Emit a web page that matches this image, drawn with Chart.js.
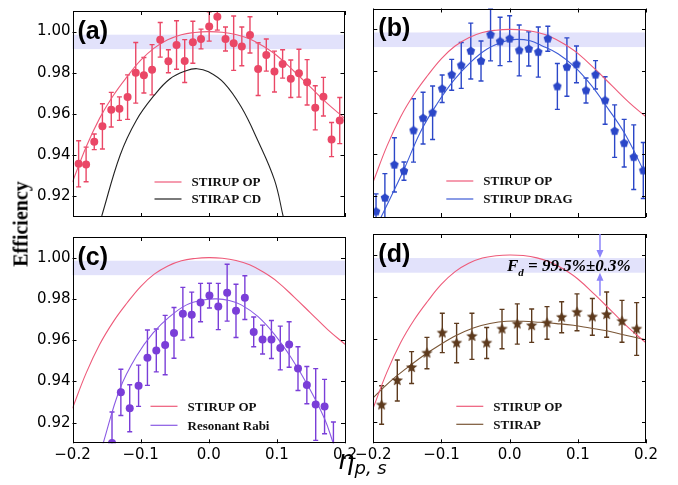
<!DOCTYPE html>
<html>
<head>
<meta charset="utf-8">
<script src="https://cdn.jsdelivr.net/npm/chart.js@4.4.1/dist/chart.umd.min.js"></script>
<style>
body { margin: 0; background: #fff; }
#wrap { position: relative; width: 678px; height: 485px; overflow: hidden; background: #fff; }
canvas { position: absolute; }
.ylab { position: absolute; left: 21px; top: 224px; transform: translate(-50%, -50%) rotate(-90deg); font: bold 20px "Liberation Serif"; white-space: nowrap; }
.xlab { position: absolute; left: 338px; top: 445px; font: italic 26px "DejaVu Sans"; white-space: nowrap; line-height: 30px; }
.xlab span { font-size: 18px; position: relative; top: 5px; }
.fd { position: absolute; left: 507px; top: 256px; font: bold italic 17px "Liberation Serif"; white-space: nowrap; line-height: 20px; }
.fd span { font-size: 11px; position: relative; top: 5px; }
</style>
</head>
<body>
<div id="wrap">
  <canvas id="pa"></canvas>
  <canvas id="pb"></canvas>
  <canvas id="pc"></canvas>
  <canvas id="pd"></canvas>
  <div class="ylab">Efficiency</div>
  <div class="xlab">η<span>p, s</span></div>
  <div class="fd">F<span>d</span> = 99.5%±0.3%</div>
</div>
<script>
var etaTicks = [-0.2, -0.1, 0.0, 0.1, 0.2];
var effTicks = [0.92, 0.94, 0.96, 0.98, 1.00];
var bandRange = [0.9915, 0.9985];

// STIRUP OP theory curve (same in every panel)
var opEta = [-0.2, -0.18, -0.16, -0.14, -0.12, -0.10, -0.08, -0.06, -0.04, -0.02, 0.0, 0.02, 0.04, 0.06, 0.08, 0.10, 0.125, 0.15, 0.175, 0.2];
var opEff = [0.927, 0.944, 0.958, 0.969, 0.978, 0.986, 0.992, 0.996, 0.9985, 0.9996, 1.0, 0.9997, 0.9986, 0.9965, 0.993, 0.9885, 0.981, 0.973, 0.965, 0.958];

// (a) measured + STIRAP CD
var aEta = [-0.191, -0.180, -0.168, -0.156, -0.143, -0.131, -0.119, -0.107, -0.095, -0.083, -0.071, -0.059, -0.047, -0.035, -0.023, -0.011, 0.001, 0.013, 0.025, 0.037, 0.049, 0.061, 0.073, 0.085, 0.097, 0.109, 0.121, 0.133, 0.145, 0.157, 0.169, 0.181, 0.193];
var aEff = [0.9358, 0.9355, 0.9465, 0.9540, 0.9621, 0.9626, 0.9682, 0.9800, 0.9788, 0.9815, 0.9960, 0.9856, 0.9935, 0.9857, 0.9948, 0.9964, 1.0025, 1.0072, 0.9964, 0.9944, 0.9928, 0.9984, 0.9818, 0.9886, 0.9806, 0.9843, 0.9771, 0.9798, 0.9754, 0.9630, 0.9684, 0.9476, 0.9568];
var aErr = [0.0112, 0.0084, 0.0038, 0.0110, 0.0084, 0.0057, 0.0108, 0.0147, 0.0086, 0.0122, 0.0084, 0.0056, 0.0118, 0.0104, 0.0102, 0.0048, 0.0071, 0.0065, 0.0058, 0.0132, 0.0094, 0.0088, 0.0128, 0.0078, 0.0099, 0.0069, 0.0091, 0.0116, 0.0110, 0.0107, 0.0094, 0.0083, 0.0112];
var cdEta = [-0.157, -0.13, -0.106, -0.08, -0.057, -0.033, -0.017, 0.0, 0.023, 0.048, 0.072, 0.097, 0.11];
var cdEff = [0.9105, 0.940, 0.957, 0.969, 0.977, 0.981, 0.982, 0.9805, 0.975, 0.9635, 0.9475, 0.928, 0.910];

// (b) measured + STIRUP DRAG
var bEta = [-0.196, -0.183, -0.169, -0.155, -0.141, -0.127, -0.113, -0.099, -0.085, -0.071, -0.057, -0.042, -0.028, -0.014, 0.000, 0.014, 0.028, 0.042, 0.056, 0.070, 0.084, 0.098, 0.112, 0.126, 0.140, 0.154, 0.168, 0.182, 0.196];
var bEff = [0.9126, 0.9192, 0.9350, 0.9320, 0.9515, 0.9574, 0.9600, 0.9715, 0.9782, 0.9827, 0.9896, 0.9848, 0.9974, 0.9942, 0.9955, 0.9899, 0.9906, 0.9891, 0.9955, 0.9726, 0.9819, 0.9832, 0.9707, 0.9782, 0.9659, 0.9512, 0.9454, 0.9387, 0.9323];
var bErr = [0.0085, 0.0116, 0.0130, 0.0044, 0.0152, 0.0124, 0.0128, 0.0066, 0.0074, 0.0110, 0.0134, 0.0096, 0.0125, 0.0116, 0.0110, 0.0122, 0.0082, 0.0120, 0.0060, 0.0110, 0.0140, 0.0088, 0.0060, 0.0068, 0.0114, 0.0126, 0.0114, 0.0155, 0.0134];
var dragEta = [-0.2, -0.19, -0.1557, -0.131, -0.1064, -0.082, -0.0571, -0.0325, -0.008, 0.01, 0.03, 0.0464, 0.0709, 0.0954, 0.1198, 0.1443, 0.1688, 0.2];
var dragEff = [0.902, 0.909, 0.9323, 0.9507, 0.9643, 0.9755, 0.9843, 0.9907, 0.9942, 0.9952, 0.9945, 0.9923, 0.9883, 0.982, 0.9731, 0.962, 0.950, 0.930];

// (c) measured + Resonant Rabi
var cEta = [-0.142, -0.129, -0.116, -0.103, -0.090, -0.077, -0.064, -0.051, -0.038, -0.025, -0.012, 0.001, 0.014, 0.027, 0.040, 0.053, 0.066, 0.079, 0.092, 0.105, 0.118, 0.131, 0.144, 0.157, 0.170, 0.183];
var cEff = [0.9102, 0.9347, 0.9270, 0.9379, 0.9515, 0.9550, 0.9576, 0.9635, 0.9728, 0.9723, 0.9782, 0.9816, 0.9763, 0.9830, 0.9742, 0.9806, 0.9640, 0.9603, 0.9603, 0.9562, 0.9579, 0.9462, 0.9382, 0.9288, 0.9278, 0.9050];
var cErr = [0.0150, 0.0112, 0.0114, 0.0100, 0.0134, 0.0104, 0.0144, 0.0123, 0.0128, 0.0110, 0.0093, 0.0060, 0.0112, 0.0138, 0.0129, 0.0106, 0.0072, 0.0070, 0.0092, 0.0106, 0.0110, 0.0106, 0.0090, 0.0174, 0.0132, 0.0153];
var rabiEta = [-0.16, -0.155, -0.1305, -0.106, -0.0816, -0.057, -0.0325, -0.0081, 0.012, 0.03, 0.0477, 0.072, 0.0967, 0.121, 0.1457, 0.170, 0.1824, 0.19];
var rabiEff = [0.904, 0.910, 0.9363, 0.9523, 0.9635, 0.9715, 0.9771, 0.9795, 0.980, 0.9792, 0.9771, 0.9715, 0.9627, 0.9515, 0.9379, 0.9219, 0.9104, 0.903];

// (d) measured + STIRAP
var dEta = [-0.1878, -0.1648, -0.1438, -0.1213, -0.0988, -0.0778, -0.0553, -0.0337, -0.0112, 0.0112, 0.0323, 0.0548, 0.0763, 0.0988, 0.1213, 0.1423, 0.1648, 0.1863];
var dEff = [0.9283, 0.9400, 0.9462, 0.9531, 0.9627, 0.9579, 0.9611, 0.9579, 0.9646, 0.9670, 0.9662, 0.9675, 0.9702, 0.9726, 0.9704, 0.9715, 0.9683, 0.9646];
var dErr = [0.0092, 0.0098, 0.0076, 0.0075, 0.0094, 0.0094, 0.0110, 0.0074, 0.0094, 0.0096, 0.0080, 0.0078, 0.0074, 0.0088, 0.0088, 0.0108, 0.0100, 0.0126];
var stirapEta = [-0.2, -0.1755, -0.151, -0.1267, -0.102, -0.0778, -0.0533, -0.0289, -0.0044, 0.02, 0.0445, 0.069, 0.0934, 0.1178, 0.1423, 0.1667, 0.2];
var stirapEff = [0.9318, 0.9395, 0.9459, 0.9518, 0.9571, 0.9616, 0.9651, 0.9672, 0.9683, 0.9683, 0.9678, 0.9672, 0.9664, 0.9651, 0.9638, 0.9619, 0.9595];

var pinkLine = '#ee5b7a';

function pts(xs, ys) {
  return xs.map(function (v, i) { return { x: v, y: ys[i] }; });
}

function fmtEta(v) {
  return (v < -1e-9 ? '\u2212' : '') + Math.abs(v).toFixed(1);
}

// filled marker shapes for (b) and (d)
function shape(color, size, n, inner) {
  var c = document.createElement('canvas');
  c.width = size; c.height = size;
  var g = c.getContext('2d');
  var r = size / 2 - 0.5, k = inner ? n * 2 : n;
  g.fillStyle = color;
  g.beginPath();
  for (var i = 0; i < k; i++) {
    var ang = -Math.PI / 2 + i * 2 * Math.PI / k;
    var rr = (inner && i % 2) ? r * inner : r;
    var px = size / 2 + rr * Math.cos(ang), py = size / 2 + rr * Math.sin(ang);
    if (i == 0) g.moveTo(px, py); else g.lineTo(px, py);
  }
  g.closePath();
  g.fill();
  return c;
}

var deco = {
  id: 'deco',
  beforeDatasetsDraw: function (chart, args, o) {
    var a = chart.chartArea, x = chart.scales.x, y = chart.scales.y, ctx = chart.ctx;
    ctx.save();
    var y1 = y.getPixelForValue(bandRange[1]), y0 = y.getPixelForValue(bandRange[0]);
    ctx.fillStyle = '#e2e2fb';
    ctx.fillRect(a.left, y1, a.right - a.left, y0 - y1);
    ctx.beginPath();
    ctx.rect(a.left, a.top, a.right - a.left, a.bottom - a.top);
    ctx.clip();
    chart.data.datasets.forEach(function (ds) {
      if (!ds.errors) return;
      ctx.strokeStyle = ds.pointBackgroundColor;
      ctx.lineWidth = 1.4;
      ds.data.forEach(function (p, i) {
        var px = x.getPixelForValue(p.x);
        var yt = y.getPixelForValue(p.y + ds.errors[i]), yb = y.getPixelForValue(p.y - ds.errors[i]);
        ctx.beginPath();
        ctx.moveTo(px, yt); ctx.lineTo(px, yb);
        ctx.moveTo(px - 2.5, yt); ctx.lineTo(px + 2.5, yt);
        ctx.moveTo(px - 2.5, yb); ctx.lineTo(px + 2.5, yb);
        ctx.stroke();
      });
    });
    ctx.restore();
  },
  afterDraw: function (chart, args, o) {
    var a = chart.chartArea, x = chart.scales.x, y = chart.scales.y, ctx = chart.ctx;
    ctx.save();
    // frame and inward ticks
    ctx.strokeStyle = '#000';
    ctx.lineWidth = 1;
    ctx.strokeRect(Math.round(a.left) + 0.5, Math.round(a.top) + 0.5, Math.round(a.right - a.left) - 1, Math.round(a.bottom - a.top) - 1);
    ctx.beginPath();
    effTicks.forEach(function (v) {
      var py = Math.round(y.getPixelForValue(v)) + 0.5;
      ctx.moveTo(a.left, py); ctx.lineTo(a.left + 4, py);
      ctx.moveTo(a.right, py); ctx.lineTo(a.right - 4, py);
    });
    etaTicks.forEach(function (v) {
      var px = Math.round(x.getPixelForValue(v)) + 0.5;
      ctx.moveTo(px, a.top); ctx.lineTo(px, a.top + 4);
      ctx.moveTo(px, a.bottom); ctx.lineTo(px, a.bottom - 4);
    });
    ctx.stroke();

    // panel label
    ctx.fillStyle = '#000';
    ctx.font = 'bold 25px "Liberation Sans"';
    ctx.textBaseline = 'middle';
    ctx.fillText(o.label, a.left + 5, a.top + 21);

    // legend
    ctx.font = 'bold 13px "Liberation Serif"';
    o.legend.forEach(function (it, i) {
      var ly = a.bottom - o.legY[i];
      ctx.strokeStyle = it.color;
      ctx.lineWidth = 1.2;
      ctx.beginPath();
      ctx.moveTo(a.left + o.legX, ly); ctx.lineTo(a.left + o.legX + 27, ly);
      ctx.stroke();
      ctx.fillStyle = '#111';
      ctx.fillText(it.text, a.left + o.legX + 37, ly + 1);
    });

    // arrows pointing at the band
    if (o.arrowAt !== undefined) {
      var ax = x.getPixelForValue(o.arrowAt);
      var tipTop = y.getPixelForValue(bandRange[1]), tipBot = y.getPixelForValue(bandRange[0]);
      var tail = y.getPixelForValue(o.arrowTail);
      ctx.strokeStyle = '#8c84fa';
      ctx.fillStyle = '#8c84fa';
      ctx.lineWidth = 1.5;
      ctx.beginPath();
      ctx.moveTo(ax, a.top); ctx.lineTo(ax, tipTop - 6);
      ctx.moveTo(ax, tail); ctx.lineTo(ax, tipBot + 6);
      ctx.stroke();
      ctx.beginPath();
      ctx.moveTo(ax, tipTop); ctx.lineTo(ax - 3.5, tipTop - 8); ctx.lineTo(ax + 3.5, tipTop - 8); ctx.closePath();
      ctx.moveTo(ax, tipBot); ctx.lineTo(ax - 3.5, tipBot + 8); ctx.lineTo(ax + 3.5, tipBot + 8); ctx.closePath();
      ctx.fill();
    }
    ctx.restore();
  }
};

function markers(xs, ys, errs, color, style, r) {
  return {
    type: 'scatter', data: pts(xs, ys), errors: errs,
    pointStyle: style, pointRadius: r, pointBorderWidth: 0,
    pointBackgroundColor: color, pointBorderColor: color, showLine: false
  };
}

function curve(xs, ys, color) {
  return {
    type: 'line', data: pts(xs, ys), borderColor: color, borderWidth: 1.1,
    pointRadius: 0, fill: false, tension: 0.4
  };
}

function panel(id, geo, sets, opts) {
  var cv = document.getElementById(id);
  cv.width = geo.w; cv.height = geo.h;
  cv.style.left = geo.left + 'px'; cv.style.top = geo.top + 'px';
  return new Chart(cv, {
    type: 'scatter',
    data: { datasets: sets },
    options: {
      responsive: false, animation: false, devicePixelRatio: 1,
      layout: { padding: { top: geo.padTop, right: geo.padRight, left: 0, bottom: 0 } },
      plugins: { legend: { display: false }, tooltip: { enabled: false }, deco: opts },
      scales: {
        x: {
          type: 'linear', min: -0.2, max: 0.2,
          grid: { display: false, drawTicks: false }, border: { display: false },
          afterBuildTicks: function (s) { s.ticks = etaTicks.map(function (v) { return { value: v }; }); },
          afterFit: function (s) { s.height = geo.xh; },
          ticks: { display: geo.xLabels, autoSkip: false, maxRotation: 0, padding: 3, color: '#000',
                   font: { family: 'DejaVu Sans', size: 15 }, callback: fmtEta }
        },
        y: {
          type: 'linear', min: 0.91, max: 1.01,
          grid: { display: false, drawTicks: false }, border: { display: false },
          afterBuildTicks: function (s) { s.ticks = effTicks.map(function (v) { return { value: v }; }); },
          afterFit: function (s) { s.width = geo.yw; },
          ticks: { display: geo.yLabels, padding: 2, color: '#000',
                   font: { family: 'DejaVu Sans', size: 15 }, callback: function (v) { return v.toFixed(2); } }
        }
      }
    },
    plugins: [deco]
  });
}

var pinkC = '#ea4766', blueC = '#2b47c8', purpleC = '#7a3ed8', brownC = '#5d3a1d';

panel('pa', { left: 0, top: 0, w: 360, h: 230, padTop: 8.5, padRight: 15.5, yw: 72.5, xh: 13, xLabels: false, yLabels: true },
  [markers(aEta, aEff, aErr, pinkC, 'circle', 4), curve(opEta, opEff, pinkLine), curve(cdEta, cdEff, '#222')],
  { label: '(a)', legX: 82, legY: [35, 18], legend: [{ text: 'STIRUP OP', color: pinkLine }, { text: 'STIRAP CD', color: '#222' }] });

panel('pb', { left: 350, top: 0, w: 328, h: 230, padTop: 8.5, padRight: 32, yw: 23.3, xh: 13, xLabels: false, yLabels: false },
  [markers(bEta, bEff, bErr, blueC, shape(blueC, 10, 5), 4), curve(opEta, opEff, pinkLine), curve(dragEta, dragEff, '#3d5bd6')],
  { label: '(b)', legX: 73, legY: [36, 18], legend: [{ text: 'STIRUP OP', color: pinkLine }, { text: 'STIRUP DRAG', color: '#3d5bd6' }] });

panel('pc', { left: 0, top: 226, w: 360, h: 259, padTop: 8, padRight: 15, yw: 72.5, xh: 41.7, xLabels: true, yLabels: true },
  [markers(cEta, cEff, cErr, purpleC, 'circle', 4), curve(opEta, opEff, pinkLine), curve(rabiEta, rabiEff, '#8a5ae4')],
  { label: '(c)', legX: 78, legY: [37, 18], legend: [{ text: 'STIRUP OP', color: pinkLine }, { text: 'Resonant Rabi', color: '#8a5ae4' }] });

panel('pd', { left: 350, top: 226, w: 328, h: 259, padTop: 8, padRight: 32, yw: 23.3, xh: 41.7, xLabels: true, yLabels: false },
  [markers(dEta, dEff, dErr, brownC, shape(brownC, 13, 5, 0.45), 5), curve(opEta, opEff, pinkLine), curve(stirapEta, stirapEff, '#7a5636')],
  { label: '(d)', legX: 83, legY: [37, 19], legend: [{ text: 'STIRUP OP', color: pinkLine }, { text: 'STIRAP', color: '#7a5636' }],
    arrowAt: 0.1325, arrowTail: 0.9805 });
</script>
</body>
</html>
